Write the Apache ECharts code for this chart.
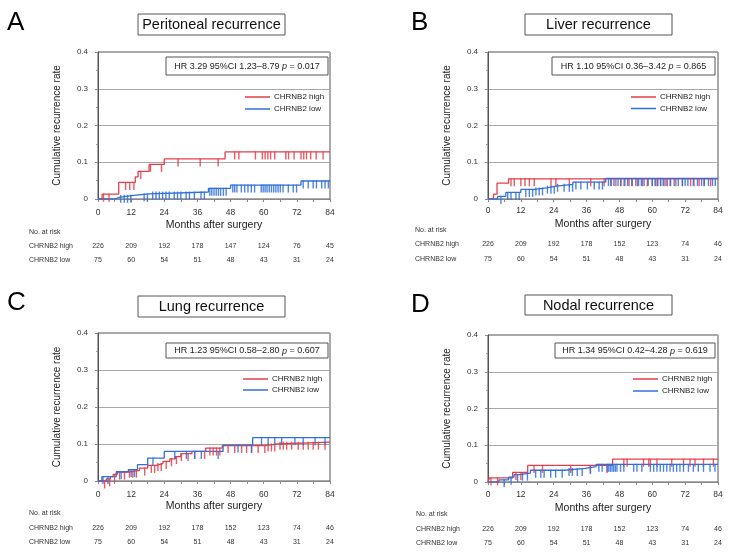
<!DOCTYPE html>
<html><head><meta charset="utf-8">
<script src="https://cdn.jsdelivr.net/npm/echarts@6/dist/echarts.min.js"></script>
<style>html,body{margin:0;padding:0;background:#fff}#c{width:734px;height:558px}</style>
</head><body><div id="c"></div>
<script>
// ---------- DATA ----------
const panelLetters = ['A', 'B', 'C', 'D'];
const panelTitles = ['Peritoneal recurrence', 'Liver recurrence', 'Lung recurrence', 'Nodal recurrence'];
const hrPrefix = ['HR 3.29 95%CI 1.23–8.79', 'HR 1.10 95%CI 0.36–3.42', 'HR 1.23 95%CI 0.58–2.80', 'HR 1.34 95%CI 0.42–4.28'];
const pValues = ['0.017', '0.865', '0.607', '0.619'];
const groupNames = ['CHRNB2 high', 'CHRNB2 low'];
const xAxisName = 'Months after surgery';
const yAxisName = 'Cumulative recurrence rate';
const riskHeader = 'No. at risk';

// step curves: [month, cumulative recurrence rate]
const stepsA_high = [[0,0],[1.5,0.013],[7.5,0.045],[13.5,0.06],[14.5,0.075],[18.5,0.094],[24,0.109],[46,0.128],[84,0.128]];
const stepsA_low  = [[0,0],[6,0.005],[8,0.01],[13,0.014],[18.5,0.019],[40,0.029],[48,0.038],[73.5,0.049],[84,0.049]];
const stepsB_high = [[0,0],[2,0.013],[3.3,0.043],[7.5,0.055],[84,0.055]];
const stepsB_low  = [[0,0],[3.5,0.007],[6.5,0.018],[12,0.026],[17,0.03],[21.5,0.035],[25,0.04],[31,0.046],[43,0.056],[84,0.056]];
const stepsC_high = [[0,0],[3,0.006],[4.5,0.012],[5.5,0.018],[7,0.024],[11,0.029],[15,0.035],[18,0.042],[21,0.047],[23.5,0.053],[26,0.06],[28,0.066],[30,0.074],[34,0.08],[39,0.089],[45,0.096],[61,0.1],[65,0.105],[84,0.105]];
const stepsC_low  = [[0,0],[1.4,0.012],[6.6,0.025],[11,0.031],[14.3,0.044],[18,0.062],[24,0.08],[45.3,0.097],[56,0.117],[84,0.117]];
const stepsD_high = [[0,0],[0.5,0.011],[9,0.026],[14.5,0.045],[45.5,0.062],[84,0.062]];
const stepsD_low  = [[0,0],[4,0.006],[7.5,0.013],[9.5,0.02],[11.5,0.024],[15.5,0.032],[28,0.037],[35.5,0.042],[39.5,0.048],[84,0.048]];

// censoring times (months)
const censorA_high = [2,4,10,11.5,13,15.5,19,23,29,37,43.5,49.5,51,57,59.5,60.5,61.5,62.5,64,68,69,71,73.5,74.5,75.5,77,79,81.5];
const censorA_low  = [8.2,9.5,10.7,11.9,16.7,17.9,19.8,21,22.2,23.4,24.6,25.8,27.6,28.8,30,31.9,33.1,34.9,37.3,38.5,40.5,41.2,42,42.8,43.6,44.4,45.4,46.4,48.8,49.5,50.3,51.9,53.1,54.3,55.5,56.7,59.1,59.8,60.5,61.2,62,62.8,63.6,64.4,65.2,66,67,68.9,70.7,71.9,74.3,76.1,77.9,79.1,81,82.2,83.4];
const censorB_high = [8.4,9.6,12,13.5,15.1,16.9,23,24.8,29.7,37.5,42.4,44.8,46.7,48.5,49.7,51.5,52.7,54.6,56.4,58.2,60,61.3,61.9,63.1,64.3,65.5,66.7,68.6,71,74,75.2,77.1,78.9,81.3];
const censorB_low  = [4.7,7.2,8.4,10.2,11.4,13.8,15.1,16.3,17.5,18.7,19.9,21.7,23,24.2,25.4,27.8,29.7,30.9,32.1,33.9,36.3,38.8,40.6,41.8,44,45,46,47.5,48.5,50,51,52.5,54,55,56,57,58.5,60,61,62,63,64,65,66.5,68,69.5,71,72,73,75,76.5,78,79,80.5,82,83];
const censorC_high = [2.4,4.2,6,7.8,9.6,11.4,12.6,13.9,16.9,19.3,20.5,21.7,22.9,24.7,26.6,28.4,30.2,32.6,35,38.6,40.5,41.7,42.9,44.1,47.1,49.5,52,53.8,55.6,58,60.4,61.6,62.8,64,65.9,67.1,68.3,70.1,72.5,74.3,76.1,77.9,79.8,82.2];
const censorC_low  = [1.8,3.6,8.4,12,13.2,19.9,27.8,32,35,37.4,43.5,50.7,55.6,59.2,61.6,64,66.5,71.3,74.3,78.6,82.2];
const censorD_high = [1.1,3.5,10.2,12,16.8,19.9,30.2,37.4,43.5,49.6,50.8,56.8,58.7,59.3,61.7,67.1,71.4,73.8,75.6,78.7,82.3];
const censorD_low  = [5.9,8.4,10.8,12.6,14.4,17.4,19.3,20.5,22.9,24.7,27.1,29.6,30.8,32.6,34.4,37.4,40.5,41.7,43.5,44.1,44.7,45.3,45.9,46.5,47.1,48.4,49.6,53.2,54.4,56.2,59.3,60.5,61.7,62.9,64.1,65.3,66.5,67.7,68.9,70.1,71.4,73.2,75,76.8,78.7,81.1,82.9];

// numbers at risk at 0,12,...,84 months
const riskA_high = [226,209,192,178,147,124,76,45];
const riskA_low  = [75,60,54,51,48,43,31,24];
const riskB_high = [226,209,192,178,152,123,74,46];
const riskB_low  = [75,60,54,51,48,43,31,24];
const riskC_high = [226,209,192,178,152,123,74,46];
const riskC_low  = [75,60,54,51,48,43,31,24];
const riskD_high = [226,209,192,178,152,123,74,46];
const riskD_low  = [75,60,54,51,48,43,31,24];

const panels = [
  {stepsHigh: stepsA_high, stepsLow: stepsA_low, cenHigh: censorA_high, cenLow: censorA_low, riskHigh: riskA_high, riskLow: riskA_low},
  {stepsHigh: stepsB_high, stepsLow: stepsB_low, cenHigh: censorB_high, cenLow: censorB_low, riskHigh: riskB_high, riskLow: riskB_low},
  {stepsHigh: stepsC_high, stepsLow: stepsC_low, cenHigh: censorC_high, cenLow: censorC_low, riskHigh: riskC_high, riskLow: riskC_low},
  {stepsHigh: stepsD_high, stepsLow: stepsD_low, cenHigh: censorD_high, cenLow: censorD_low, riskHigh: riskD_high, riskLow: riskD_low}
];

// ---------- LAYOUT / STYLE ----------
const layout = [
  {grid:[98,52,232,147], letter:[7,10], title:[138,14,147,21], hr:[166,57,162,18], leg:[245,97,109], tickM:9, nameGap:21, riskOff:[43.5,57.5], rowX:29, rowY:[232,246,260]},
  {grid:[488,52,230,147], letter:[411,10], title:[525,14,147,21], hr:[552,57,163,18], leg:[631,97,108.5], tickM:7, nameGap:20, riskOff:[41.5,56.5], rowX:415, rowY:[230,244,259]},
  {grid:[98,333,232,148], letter:[7,290], title:[138,296,147,21], hr:[166,343,162,15], leg:[243,379,390], tickM:9, nameGap:20, riskOff:[43.5,57.5], rowX:29, rowY:[513,528,542]},
  {grid:[488,335,230,147], letter:[411,292], title:[525,295,147,20], hr:[555,343,160,15], leg:[633,379,391], tickM:8, nameGap:21, riskOff:[43.5,57.5], rowX:416, rowY:[514,529,543]}
];
const RED = '#e53e4a';
const BLUE = '#3070da';
const FONT = '"Liberation Sans", Arial, Helvetica, sans-serif';

function valueAt(steps, t) {
  let v = 0;
  for (const s of steps) { if (s[0] <= t) v = s[1]; }
  return v;
}

const grids = [], xAxes = [], yAxes = [], series = [], graphics = [];
panels.forEach((p, i) => {
  const L = layout[i];
  grids.push({left:L.grid[0], top:L.grid[1], width:L.grid[2], height:L.grid[3], show:true, borderColor:'#555', borderWidth:1, backgroundColor:'transparent'});
  const mainIdx = xAxes.length;
  xAxes.push({
    gridIndex:i, type:'value', min:0, max:84, interval:12,
    axisLine:{show:true, onZero:false, lineStyle:{color:'#888', width:1}},
    axisTick:{show:true, length:3, lineStyle:{color:'#888'}},
    minorTick:{show:true, splitNumber:2, length:3, lineStyle:{color:'#888'}},
    splitLine:{show:false},
    axisLabel:{fontSize:8.5, color:'#333', margin:L.tickM, fontFamily:FONT},
    name:xAxisName, nameLocation:'middle', nameGap:L.nameGap,
    nameTextStyle:{fontSize:10.5, color:'#222', fontFamily:FONT}
  });
  [p.riskHigh, p.riskLow].forEach((risk, k) => {
    xAxes.push({
      gridIndex:i, type:'value', min:0, max:84, interval:12, position:'bottom', offset:L.riskOff[k],
      axisLine:{show:false}, axisTick:{show:false}, splitLine:{show:false},
      axisLabel:{fontSize:7, color:'#333', margin:0, fontFamily:FONT, formatter:v => String(risk[Math.round(v/12)])}
    });
  });
  yAxes.push({
    gridIndex:i, type:'value', min:0, max:0.4, interval:0.1,
    axisLine:{show:true, lineStyle:{color:'#555'}},
    axisTick:{show:true, length:3, lineStyle:{color:'#888'}},
    minorTick:{show:true, splitNumber:2, length:2, lineStyle:{color:'#999'}},
    splitLine:{show:true, lineStyle:{color:'#a8a8a8', width:1}},
    axisLabel:{fontSize:8, color:'#333', margin:10, fontFamily:FONT, formatter:v => v === 0 ? '0' : v.toFixed(1)},
    name:yAxisName, nameLocation:'middle', nameGap:36,
    nameTextStyle:{fontSize:10, color:'#222', fontFamily:FONT}
  });
  [[p.stepsHigh, p.cenHigh, RED, groupNames[0]], [p.stepsLow, p.cenLow, BLUE, groupNames[1]]].forEach(([steps, cen, col, nm]) => {
    series.push({
      type:'line', name:nm, xAxisIndex:mainIdx, yAxisIndex:i, step:'end', data:steps,
      showSymbol:false, symbol:'none', lineStyle:{color:col, width:1.3}, itemStyle:{color:col}, z:3, animation:false
    });
    series.push({
      type:'scatter', name:nm, xAxisIndex:mainIdx, yAxisIndex:i,
      data:cen.map(t => [t, valueAt(steps, t)]),
      symbol:'rect', symbolSize:[1.4, 8], symbolOffset:[0, 3.5],
      itemStyle:{color:col, opacity:0.85}, z:4, animation:false, silent:true
    });
  });

  // panel letter
  graphics.push({type:'text', left:L.letter[0], top:L.letter[1], style:{text:panelLetters[i], fontSize:26, fill:'#000', fontFamily:FONT}});
  // title box
  graphics.push({type:'rect', shape:{x:L.title[0], y:L.title[1], width:L.title[2], height:L.title[3]}, style:{fill:'#fff', stroke:'#555', lineWidth:1}});
  graphics.push({type:'text', x:L.title[0] + L.title[2]/2, y:L.title[1] + L.title[3]/2 + 0.5, style:{text:panelTitles[i], fontSize:14.5, fill:'#111', fontFamily:FONT, textAlign:'center', textVerticalAlign:'middle'}});
  // HR box
  graphics.push({type:'rect', z:10, shape:{x:L.hr[0], y:L.hr[1], width:L.hr[2], height:L.hr[3]}, style:{fill:'#fff', stroke:'#555', lineWidth:1}});
  graphics.push({type:'text', z:11, x:L.hr[0] + L.hr[2]/2, y:L.hr[1] + L.hr[3]/2 + 0.5, style:{
    text:hrPrefix[i] + ' {it|p} = ' + pValues[i], rich:{it:{fontStyle:'italic', fontSize:9, fontFamily:FONT, fill:'#222'}},
    fontSize:9, fill:'#222', fontFamily:FONT, textAlign:'center', textVerticalAlign:'middle'}});
  // legend
  [[RED, groupNames[0], L.leg[1]], [BLUE, groupNames[1], L.leg[2]]].forEach(([col, nm, yy]) => {
    graphics.push({type:'line', z:10, shape:{x1:L.leg[0], y1:yy, x2:L.leg[0] + 25, y2:yy}, style:{stroke:col, lineWidth:1.5}});
    graphics.push({type:'text', z:10, x:L.leg[0] + 29, y:yy, style:{text:nm, fontSize:8, fill:'#222', fontFamily:FONT, textAlign:'left', textVerticalAlign:'middle'}});
  });
  // risk table row labels
  [riskHeader, groupNames[0], groupNames[1]].forEach((t, k) => {
    graphics.push({type:'text', x:L.rowX, y:L.rowY[k], style:{text:t, fontSize:7, fill:'#333', fontFamily:FONT, textAlign:'left', textVerticalAlign:'middle'}});
  });
});

const chart = echarts.init(document.getElementById('c'), null, {renderer:'canvas'});
chart.setOption({
  animation:false,
  backgroundColor:'#fff',
  textStyle:{fontFamily:FONT},
  grid:grids, xAxis:xAxes, yAxis:yAxes, series:series, graphic:graphics
});
</script>
</body></html>
